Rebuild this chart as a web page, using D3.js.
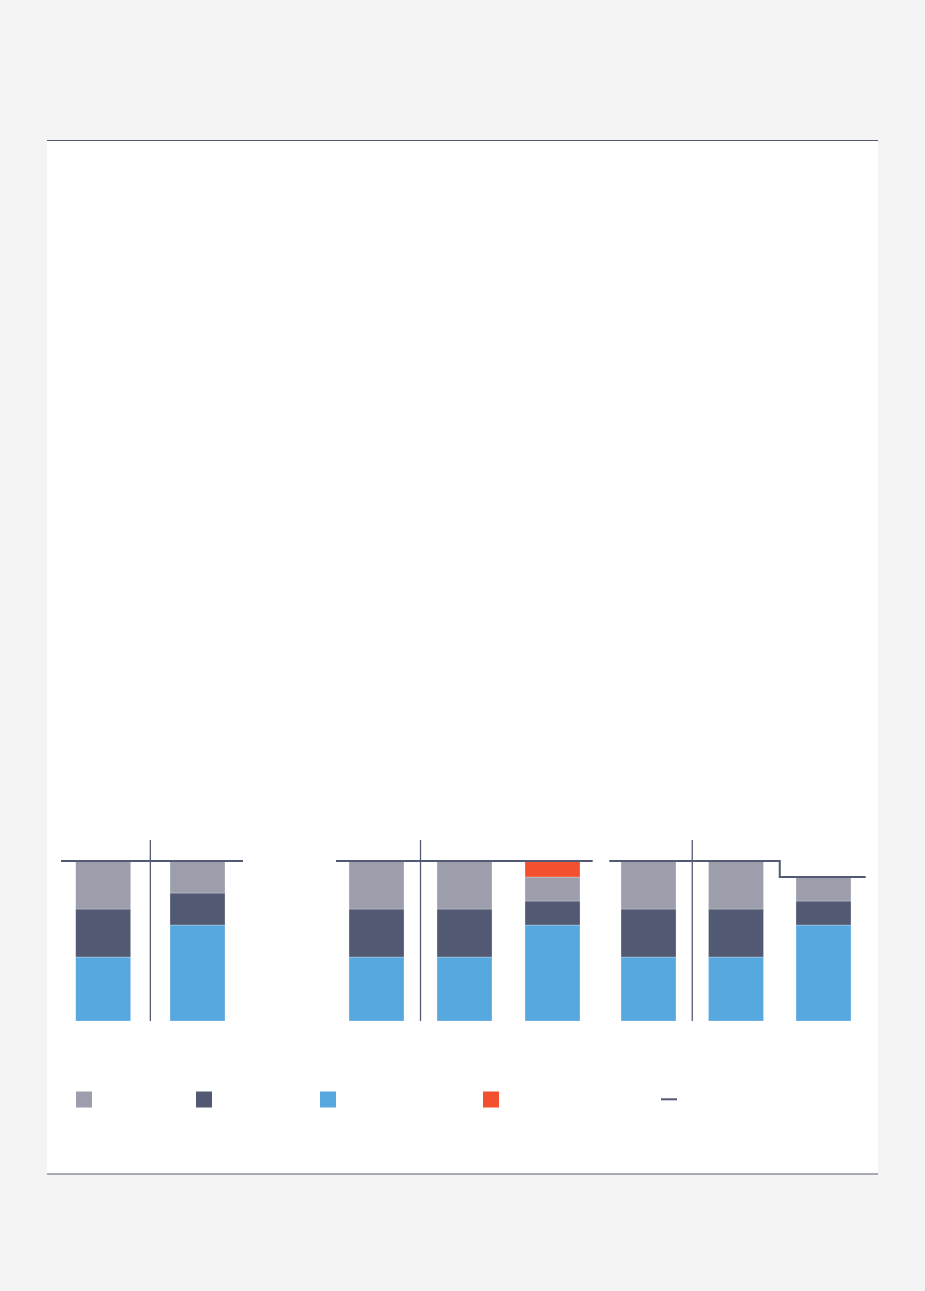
<!DOCTYPE html>
<html>
<head>
<meta charset="utf-8">
<script src="https://cdn.jsdelivr.net/npm/d3@7"></script>
<style>
  body { margin: 0; background: #f4f4f4; }
  svg { display: block; }
</style>
</head>
<body>
<script>
// data: three groups of stacked bars, values in percent
var groups = ["g1", "g2", "g3"];
var categories = [["a1", "a2"], ["b1", "b2", "b3"], ["c1", "c2", "c3"]];
var seriesNames = ["blue", "dark", "grey", "red"];
var blueVals = [[40, 60], [40, 40, 60], [40, 40, 60]];
var darkVals = [[30, 20], [30, 30, 15], [30, 30, 15]];
var greyVals = [[30, 20], [30, 30, 15], [30, 30, 15]];
var redVals  = [[0, 0], [0, 0, 10], [0, 0, 0]];
var limitVals = [[100, 100], [100, 100, 100], [100, 100, 90]];

var colors = { blue: "#58a8e0", dark: "#525a73", grey: "#9c9eab", red: "#f2502f" };
var lineColor = "#525a74";

var w = 925, h = 1291;

// layout of each group (bar band range, line extent)
var layout = [
  { band: [75.7, 225], inner: 0.4167, line: [61, 243] },
  { band: [349, 580], inner: 0.375, line: [336, 592.7] },
  { band: [621, 851], inner: 0.3714, line: [609.3, 865.7] }
];

var svg = d3.select("body").append("svg").attr("width", w).attr("height", h);

// white card with top and bottom rules
svg.append("rect").attr("x", 47).attr("y", 140).attr("width", 831).attr("height", 1034).attr("fill", "#fff");
svg.append("line").attr("x1", 47).attr("x2", 878).attr("y1", 140.5).attr("y2", 140.5)
  .attr("stroke", lineColor).attr("stroke-width", 1.2);
svg.append("line").attr("x1", 47).attr("x2", 878).attr("y1", 1174).attr("y2", 1174)
  .attr("stroke", lineColor).attr("stroke-width", 1.2);

var yScale = d3.scaleLinear().domain([0, 100]).range([1021, 861]);

groups.forEach(function(g, gi) {
  var cats = categories[gi];
  var lay = layout[gi];
  var xScale = d3.scaleBand().domain(cats).range(lay.band).paddingInner(lay.inner).paddingOuter(0);

  var rows = cats.map(function(c, i) {
    return { cat: c, blue: blueVals[gi][i], dark: darkVals[gi][i], grey: greyVals[gi][i], red: redVals[gi][i] };
  });
  var stacked = d3.stack().keys(seriesNames)(rows);

  var gEl = svg.append("g");

  gEl.selectAll("g.series").data(stacked).enter().append("g")
    .attr("fill", function(d) { return colors[d.key]; })
    .selectAll("rect").data(function(d) { return d; }).enter()
    .filter(function(d) { return d[1] - d[0] > 0; })
    .append("rect")
    .attr("x", function(d) { return xScale(d.data.cat); })
    .attr("width", xScale.bandwidth())
    .attr("y", function(d) { return yScale(d[1]); })
    .attr("height", function(d) { return yScale(d[0]) - yScale(d[1]); })
    .attr("stroke", "#fff")
    .attr("stroke-opacity", 0.45)
    .attr("stroke-width", 0.6);

  // divider between first and second bar
  var mid = function(i) {
    return (xScale(cats[i]) + xScale.bandwidth() + xScale(cats[i + 1])) / 2;
  };
  gEl.append("line")
    .attr("x1", mid(0)).attr("x2", mid(0))
    .attr("y1", 840).attr("y2", yScale(0))
    .attr("stroke", lineColor).attr("stroke-width", 1.3);

  // step line of limits
  var pts = [[lay.line[0], limitVals[gi][0]]];
  for (var i = 1; i < cats.length; i++) pts.push([mid(i - 1), limitVals[gi][i]]);
  pts.push([lay.line[1], limitVals[gi][cats.length - 1]]);

  var line = d3.line()
    .x(function(d) { return d[0]; })
    .y(function(d) { return yScale(d[1]); })
    .curve(d3.curveStepAfter);

  gEl.append("path").attr("d", line(pts))
    .attr("fill", "none").attr("stroke", lineColor).attr("stroke-width", 2);
});

// legend (no labels in the picture)
var legendItems = [
  { type: "rect", color: colors.grey, x: 76 },
  { type: "rect", color: colors.dark, x: 196 },
  { type: "rect", color: colors.blue, x: 320 },
  { type: "rect", color: colors.red, x: 483 },
  { type: "line", color: lineColor, x: 661 }
];
var legend = svg.append("g");
legendItems.forEach(function(d) {
  if (d.type === "rect") {
    legend.append("rect").attr("x", d.x).attr("y", 1091.5).attr("width", 16).attr("height", 16)
      .attr("fill", d.color);
  } else {
    legend.append("line").attr("x1", d.x).attr("x2", d.x + 16).attr("y1", 1099.3).attr("y2", 1099.3)
      .attr("stroke", d.color).attr("stroke-width", 2);
  }
});
</script>
</body>
</html>
